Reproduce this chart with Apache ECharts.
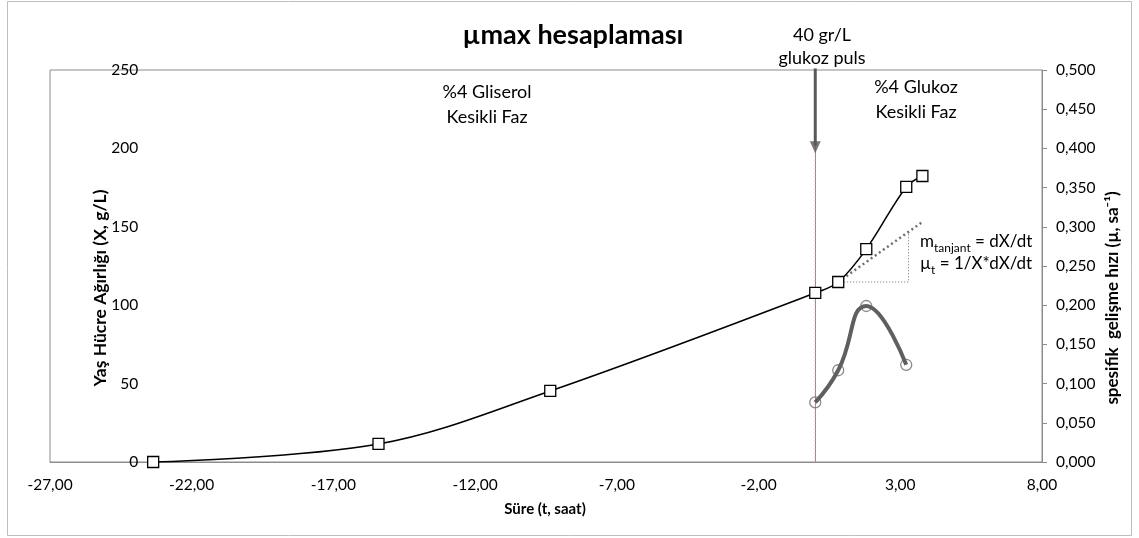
<!DOCTYPE html>
<html>
<head>
<meta charset="utf-8">
<script src="https://cdn.jsdelivr.net/npm/echarts@6/dist/echarts.min.js"></script>
<style>
  html, body { margin: 0; padding: 0; background: #fff; }
  #chart { width: 1139px; height: 538px; }
</style>
</head>
<body>
<div id="chart"></div>
<script>
// Fermentation time (h) relative to the glucose pulse, and wet cell weight (g/L)
const timeBiomass = [-23.36, -15.41, -9.35, 0, 0.81, 1.80, 3.21, 3.78];
const wetWeight   = [0, 11.5, 45.3, 107.8, 114.8, 135.8, 175.4, 182.4];

// Specific growth rate (1/h) after the pulse
const timeMu = [0, 0.81, 1.80, 3.21];
const muValues = [0.076, 0.117, 0.199, 0.124];

// Pulse time, arrow span (X units) and tangent construction (time, X)
const pulseTime = 0;
const pulseArrow = [251, 197.7];
const tangentLine = [[0.81, 114.8], [3.78, 153.1]];
const tangentLegs = [[0.81, 114.8], [3.29, 114.8], [3.29, 146.0]];

// Axis ticks
const timeTicks = [-27, -22, -17, -12, -7, -2, 3, 8];
const biomassTicks = [0, 50, 100, 150, 200, 250];
const muTicks = [0, 0.05, 0.1, 0.15, 0.2, 0.25, 0.3, 0.35, 0.4, 0.45, 0.5];

const FONT = 'Lato, "Open Sans", sans-serif';
const comma = (v, d) => v.toFixed(d).replace('.', ',');

const grid = { left: 50, right: 97, top: 70, bottom: 76 };

const chart = echarts.init(document.getElementById('chart'), null, { renderer: 'canvas' });

const subRich = {
  m: { font: '17px ' + FONT, fill: '#000', verticalAlign: 'top', lineHeight: 20 },
  s: { font: '12px ' + FONT, fill: '#000', verticalAlign: 'top', lineHeight: 13, padding: [9, 0, 0, 0] }
};

function label(text, x, y, size) {
  return { type: 'text', x: x, y: y, style: { text: text, font: size + 'px ' + FONT, fill: '#000', align: 'center', verticalAlign: 'middle' } };
}

function buildOption(leftAxisOffset) {
  return {
    animation: false,
    backgroundColor: '#fff',
    grid: Object.assign({ show: true, borderColor: '#8c8c8c', borderWidth: 1, backgroundColor: 'transparent' }, grid),
    xAxis: {
      type: 'value',
      min: timeTicks[0],
      max: timeTicks[timeTicks.length - 1],
      axisLine: { show: true, onZero: false, lineStyle: { color: '#8c8c8c', width: 1 } },
      axisTick: { show: false, customValues: timeTicks },
      splitLine: { show: false },
      axisLabel: {
        customValues: timeTicks,
        formatter: v => comma(v, 2),
        color: '#000', fontFamily: FONT, fontSize: 15.5, margin: 15
      }
    },
    yAxis: [
      {
        type: 'value',
        position: 'left',
        min: biomassTicks[0],
        max: biomassTicks[biomassTicks.length - 1],
        interval: 50,
        offset: leftAxisOffset,
        axisLine: { show: true, lineStyle: { color: '#8c8c8c', width: 1 } },
        axisTick: { show: false },
        splitLine: { show: false },
        axisLabel: { color: '#000', fontFamily: FONT, fontSize: 15.5, margin: 15 }
      },
      {
        type: 'value',
        position: 'right',
        min: muTicks[0],
        max: muTicks[muTicks.length - 1],
        interval: 0.05,
        axisLine: { show: true, lineStyle: { color: '#8c8c8c', width: 1 } },
        axisTick: { show: true, length: 5, lineStyle: { color: '#8c8c8c' } },
        splitLine: { show: false },
        axisLabel: { formatter: v => comma(v, 3), color: '#000', fontFamily: FONT, fontSize: 15.5, margin: 14 }
      }
    ],
    series: [
      {
        // red dotted guide below the pulse arrow
        type: 'line',
        data: [[pulseTime, 0], [pulseTime, pulseArrow[1]]],
        symbol: 'none',
        lineStyle: { color: '#d98b8a', width: 1, type: [2, 2] },
        z: 1
      },
      {
        // pulse arrow shaft
        type: 'line',
        data: [[pulseTime, pulseArrow[0]], [pulseTime, pulseArrow[1] + 4]],
        symbol: 'none',
        clip: false,
        lineStyle: { color: '#595959', width: 3 },
        z: 5
      },
      {
        // pulse arrow head
        type: 'scatter',
        data: [[pulseTime, pulseArrow[1] + 3]],
        symbol: 'triangle',
        symbolRotate: 180,
        symbolSize: [11, 12],
        itemStyle: { color: '#595959' },
        z: 5
      },
      {
        // tangent at the first post-pulse point
        type: 'line',
        data: tangentLine,
        symbol: 'none',
        lineStyle: { color: '#6e6e6e', width: 2.5, type: [2, 3] },
        z: 2
      },
      {
        type: 'line',
        data: tangentLegs,
        symbol: 'none',
        lineStyle: { color: '#6e6e6e', width: 1, type: [1, 2] },
        z: 2
      },
      {
        name: 'X',
        type: 'line',
        data: timeBiomass.map((t, i) => [t, wetWeight[i]]),
        smooth: 0.35,
        symbol: 'rect',
        symbolSize: 11,
        itemStyle: { color: '#fff', borderColor: '#000', borderWidth: 1.3 },
        lineStyle: { color: '#000', width: 1.5 },
        z: 4
      },
      {
        name: 'mu-points',
        type: 'scatter',
        yAxisIndex: 1,
        data: timeMu.map((t, i) => [t, muValues[i]]),
        symbol: 'circle',
        symbolSize: 11,
        itemStyle: { color: 'rgba(255,255,255,0)', borderColor: '#6e6e6e', borderWidth: 1.3 },
        z: 3
      },
      {
        name: 'mu',
        type: 'line',
        yAxisIndex: 1,
        data: timeMu.map((t, i) => [t, muValues[i]]),
        smooth: 0.5,
        symbol: 'none',
        lineStyle: { color: '#5f5f5f', width: 4 },
        z: 4
      }
    ],
    graphic: [
      { type: 'rect', shape: { x: 7.5, y: 1.5, width: 1124, height: 534 }, style: { fill: 'none', stroke: '#bdbdbd', lineWidth: 1 }, silent: true, z: -1 },
      { type: 'text', x: 573, y: 35, style: { text: 'µmax hesaplaması', font: 'bold 27px ' + FONT, fill: '#000', align: 'center', verticalAlign: 'middle' } },
      label('40 gr/L', 822, 35, 18),
      label('glukoz puls', 822, 58, 18),
      label('%4 Gliserol', 487, 92, 18),
      label('Kesikli Faz', 487, 117, 18),
      label('%4 Glukoz', 916, 87, 18),
      label('Kesikli Faz', 916, 112, 18),
      { type: 'text', x: 920, y: 233, style: { text: '{m|m}{s|tanjant}{m| = dX/dt}', rich: subRich } },
      { type: 'text', x: 920, y: 255, style: { text: '{m|µ}{s|t}{m| = 1/X*dX/dt}', rich: subRich } },
      { type: 'text', x: 545, y: 509, style: { text: 'Süre (t, saat)', font: 'bold 15px ' + FONT, fill: '#000', align: 'center', verticalAlign: 'middle' } },
      { type: 'text', x: 100, y: 288, rotation: Math.PI / 2, style: { text: 'Yaş Hücre Ağırlığı (X, g/L)', font: 'bold 17.5px ' + FONT, fill: '#000', align: 'center', verticalAlign: 'middle' } },
      { type: 'text', x: 1113, y: 298, rotation: Math.PI / 2, style: { text: 'spesifik  gelişme hızı (µ, sa⁻¹)', font: 'bold 17px ' + FONT, fill: '#000', align: 'center', verticalAlign: 'middle' } }
    ]
  };
}

// The left value axis crosses the time axis at the first sampling time.
chart.setOption(buildOption(0));
const crossPx = chart.convertToPixel({ xAxisIndex: 0 }, timeBiomass[0]);
chart.setOption(buildOption(-(crossPx - grid.left)));
</script>
</body>
</html>
